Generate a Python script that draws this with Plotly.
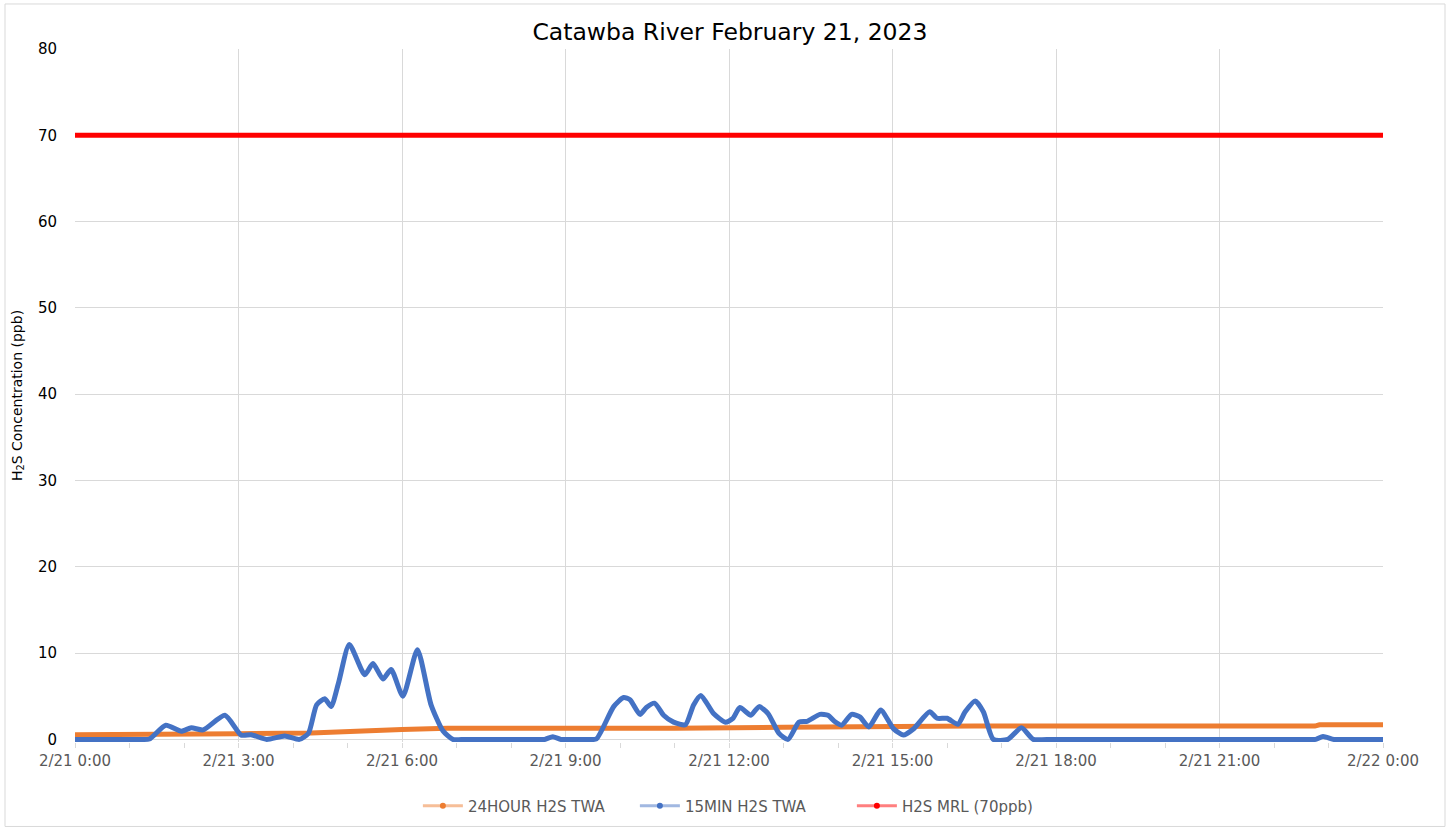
import plotly.graph_objects as go

# ---- data ----
blue_times = ["00:00", "01:12", "01:22", "01:40", "01:57", "02:08", "02:21", "02:45", "03:03", "03:14", "03:31",
              "03:51", "04:07", "04:17", "04:26", "04:35", "04:42", "04:50", "05:02", "05:19", "05:28",
              "05:39", "05:48", "06:01", "06:17", "06:32", "06:45", "06:56", "07:10", "08:25", "08:37",
              "08:46", "08:55", "09:10", "09:25", "09:34", "09:53", "10:04", "10:11", "10:22", "10:29",
              "10:38", "10:48", "10:59", "11:12", "11:21", "11:29", "11:43", "11:56", "12:04", "12:12",
              "12:24", "12:33", "12:43", "12:55", "13:05", "13:17", "13:26", "13:40", "13:49", "13:56",
              "14:04", "14:15", "14:24", "14:34", "14:47", "15:01", "15:12", "15:23", "15:41", "15:49",
              "16:00", "16:12", "16:20", "16:31", "16:40", "16:51", "17:07", "17:22", "17:35", "17:50",
              "22:35", "22:46", "22:54", "23:06", "23:20"]
blue_values = [0, 0, 0.05, 1.65, 0.95, 1.35, 1.1, 2.8, 0.5, 0.55, 0,
               0.4, 0, 0.7, 4.0, 4.7, 3.8, 6.5, 11.0, 7.5, 8.8,
               7.0, 8.1, 5.0, 10.4, 4.0, 1.0, 0, 0, 0, 0,
               0.3, 0, 0, 0, 0.05, 3.8, 4.85, 4.6, 2.9, 3.7,
               4.2, 2.8, 2.0, 1.7, 4.0, 5.1, 3.0, 2.0, 2.4, 3.7,
               2.8, 3.8, 3.0, 0.7, 0, 2.0, 2.1, 2.9, 2.8, 2.1,
               1.65, 2.9, 2.6, 1.45, 3.4, 1.25, 0.5, 1.2, 3.2, 2.45,
               2.45, 1.75, 3.2, 4.45, 3.2, 0, 0, 1.35, 0, 0,
               0, 0, 0.35, 0, 0]

orange_times = ["00:00", "01:30", "03:00", "04:20", "05:00", "06:00", "06:50", "08:30", "09:00",
                "11:00", "13:00", "15:00", "16:30", "22:45", "22:50"]
orange_values = [0.55, 0.55, 0.65, 0.75, 0.95, 1.15, 1.3, 1.3, 1.2,
                 1.3, 1.4, 1.45, 1.55, 1.55, 1.7]

mrl_value = 70

series_names = ["24HOUR H2S TWA", "15MIN H2S TWA", "H2S MRL (70ppb)"]
series_colors = ["#ED7D31", "#4472C4", "#FF0000"]
legend_colors = ["rgba(237,125,49,0.5)", "rgba(68,114,196,0.5)", "rgba(255,0,0,0.5)"]

day = "2023-02-21 "
end_time = "2023-02-22 00:00"

blue_x = [day + t for t in blue_times] + [end_time]
blue_y = blue_values + [0]
orange_x = [day + t for t in orange_times] + [end_time]
orange_y = orange_values + [orange_values[-1]]
mrl_x = [day + "00:00", end_time]
mrl_y = [mrl_value, mrl_value]

fig = go.Figure()
fig.add_trace(go.Scatter(x=orange_x, y=orange_y, mode="lines", showlegend=False,
                         line=dict(color=series_colors[0], width=5)))
fig.add_trace(go.Scatter(x=blue_x, y=blue_y, mode="lines", showlegend=False,
                         line=dict(color=series_colors[1], width=5, shape="spline", smoothing=0.6)))
fig.add_trace(go.Scatter(x=mrl_x, y=mrl_y, mode="lines", showlegend=False,
                         line=dict(color=series_colors[2], width=5)))

for name, lc, mc in zip(series_names, legend_colors, series_colors):
    fig.add_trace(go.Scatter(x=[None], y=[None], mode="lines+markers", name=name,
                             line=dict(color=lc, width=3),
                             marker=dict(color=mc, size=6)))

font_family = "DejaVu Sans, sans-serif"

# plot area: top 49, zero at 739, 8.625 px per unit
y_min = -0.3
plot_h = 690 + (-y_min) * 8.625
b_margin = 827 - 49 - plot_h

fig.update_layout(
    width=1450, height=827,
    margin=dict(l=75, r=67, t=49, b=b_margin, autoexpand=False),
    paper_bgcolor="white", plot_bgcolor="white",
    font=dict(family=font_family, size=15, color="#595959"),
    title=dict(text="Catawba River February 21, 2023", x=0.5034, xanchor="center",
               y=1 - 32 / 827, yanchor="middle",
               font=dict(size=23.5, color="black", family=font_family)),
    legend=dict(orientation="h", x=0.511, xanchor="center", y=-64 / plot_h, yanchor="middle",
                font=dict(size=15, color="#595959"), itemwidth=40, entrywidth=162,
                entrywidthmode="pixels", bgcolor="rgba(0,0,0,0)"),
    showlegend=True,
)

fig.update_xaxes(
    type="date", range=[day + "00:00", end_time],
    dtick=3 * 3600000, tick0=day + "00:00", tickformat="%-m/%-d %-H:%M",
    showgrid=True, gridcolor="#d9d9d9", gridwidth=1,
    showline=False,
    ticks="outside", ticklen=5, tickcolor="#d9d9d9",
    minor=dict(dtick=3600000, ticks="outside", ticklen=5, tickcolor="#d9d9d9", showgrid=False),
    tickfont=dict(size=15, color="#595959"), zeroline=False,
)
fig.update_yaxes(
    range=[y_min, 80], tick0=0, dtick=10, showgrid=True, gridcolor="#d9d9d9", gridwidth=1,
    showline=False, zeroline=True, zerolinecolor="#d9d9d9", zerolinewidth=1,
    ticks="", ticklabelstandoff=17,
    tickfont=dict(size=15, color="black"),
    title=dict(text="H<sub>2</sub>S Concentration (ppb)", font=dict(size=14, color="black"), standoff=12),
)

# chart area border
fig.add_shape(type="rect", xref="paper", yref="paper",
              x0=-70 / 1308, x1=1 + 62 / 1308, y0=-(b_margin - 1) / plot_h, y1=1 + 45 / plot_h,
              line=dict(color="#d9d9d9", width=1), fillcolor="rgba(0,0,0,0)", layer="below")

fig.write_html("out.html", config={"displayModeBar": False},
               post_script="document.body.style.margin='0';")
